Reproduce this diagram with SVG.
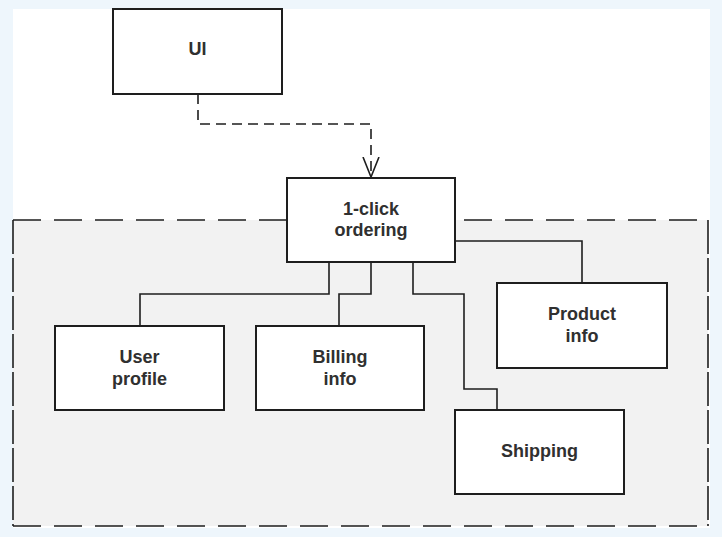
<svg xmlns="http://www.w3.org/2000/svg" width="722" height="537" viewBox="0 0 722 537">
  <style>
    .box { fill: #ffffff; stroke: #1e1e1e; stroke-width: 2; }
    .lbl { font-family: "Liberation Sans", Arial, Helvetica, sans-serif; font-weight: bold; font-size: 18px; fill: #303030; text-anchor: middle; }
    .conn { fill: none; stroke: #1e1e1e; stroke-width: 1.6; }
    .dash { stroke-dasharray: 10 6; }
    .grpH { stroke: #1e1e1e; stroke-width: 1.6; stroke-dasharray: 28 13; fill: none; }
    .grpV { stroke: #1e1e1e; stroke-width: 1.6; stroke-dasharray: 34 4; fill: none; }
  </style>
  <defs>
    <marker id="openArrow" markerWidth="20" markerHeight="20" refX="20" refY="8" orient="auto" markerUnits="userSpaceOnUse" viewBox="0 0 20 16">
      <path d="M0,0 L20,8 L0,16" fill="none" stroke="#1e1e1e" stroke-width="1.6"/>
    </marker>
  </defs>

  <!-- background -->
  <rect x="0" y="0" width="722" height="537" fill="#eef6fc"/>
  <rect x="13" y="9" width="697" height="519" fill="#ffffff"/>

  <!-- group container -->
  <g id="group">
    <rect x="13" y="220" width="695" height="306" fill="#f2f2f2"/>
    <line class="grpH" x1="13" y1="220" x2="708" y2="220"/>
    <line class="grpH" x1="13" y1="526" x2="708" y2="526"/>
    <line class="grpV" x1="13" y1="220" x2="13" y2="526"/>
    <line class="grpV" x1="708" y1="220" x2="708" y2="526"/>
  </g>

  <!-- connectors -->
  <g id="connectors">
    <path class="conn dash" d="M198,94 L198,124 L371,124 L371,177" marker-end="url(#openArrow)"/>
    <path class="conn" d="M329,262 L329,294 L140,294 L140,326"/>
    <path class="conn" d="M371,262 L371,294 L339,294 L339,326"/>
    <path class="conn" d="M413,262 L413,294 L464,294 L464,389 L497,389 L497,410"/>
    <path class="conn" d="M455,241 L582,241 L582,283"/>
  </g>

  <g id="ui">
    <rect class="box" x="113" y="9" width="169" height="85"/>
    <text class="lbl" x="197.5" y="55">UI</text>
  </g>

  <g id="one-click">
    <rect class="box" x="287" y="178" width="168" height="84"/>
    <text class="lbl" x="371" y="215">1-click</text>
    <text class="lbl" x="371" y="236">ordering</text>
  </g>

  <g id="user-profile">
    <rect class="box" x="55" y="326" width="169" height="84"/>
    <text class="lbl" x="139.5" y="363">User</text>
    <text class="lbl" x="139.5" y="385">profile</text>
  </g>

  <g id="billing-info">
    <rect class="box" x="256" y="326" width="168" height="84"/>
    <text class="lbl" x="340" y="363">Billing</text>
    <text class="lbl" x="340" y="385">info</text>
  </g>

  <g id="product-info">
    <rect class="box" x="497" y="283" width="170" height="85"/>
    <text class="lbl" x="582" y="320">Product</text>
    <text class="lbl" x="582" y="342">info</text>
  </g>

  <g id="shipping">
    <rect class="box" x="455" y="410" width="169" height="84"/>
    <text class="lbl" x="539.5" y="457">Shipping</text>
  </g>
</svg>
